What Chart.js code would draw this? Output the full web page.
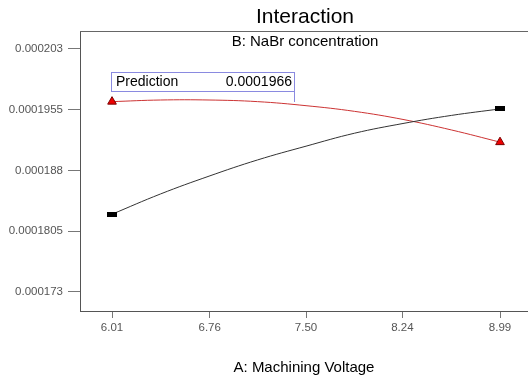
<!DOCTYPE html>
<html lang="en">

<head>
    <meta charset="UTF-8">
    <title>Interaction</title>
    <style>
        html, body { margin: 0; padding: 0; background: #fff; }
    </style>
</head>

<body>
    <canvas id="myChart" width="528" height="380"></canvas>

    <script src="https://cdn.jsdelivr.net/npm/chart.js@4.4.0/dist/chart.umd.min.js"></script>
    <script>
        // values
        const xTicks = [6.01, 6.76, 7.50, 8.24, 8.99];
        const xLabels = ['6.01', '6.76', '7.50', '8.24', '8.99'];
        const yTicks = [0.000173, 0.0001805, 0.000188, 0.0001955, 0.000203];
        const yLabels = ['0.000173', '0.0001805', '0.000188', '0.0001955', '0.000203'];

        const voltage = [6.01, 6.3825, 6.755, 7.1275, 7.50, 7.8725, 8.245, 8.6175, 8.99];
        const nabrLow = [0.0001826, 0.0001851, 0.0001873, 0.0001893, 0.0001910, 0.0001926, 0.0001938, 0.0001948, 0.0001956];
        const nabrHigh = [0.0001965, 0.0001967, 0.0001967, 0.0001965, 0.0001960, 0.0001953, 0.0001943, 0.0001930, 0.0001915];
        const prediction = '0.0001966';

        const fontFamily = "'Liberation Sans', Arial, sans-serif";

        // little black bar used as the low marker
        const barMark = document.createElement('canvas');
        barMark.width = 10;
        barMark.height = 5;
        const bctx = barMark.getContext('2d');
        bctx.fillStyle = '#000';
        bctx.fillRect(0, 0, 10, 5);

        function ends(n, r) {
            return voltage.map((v, i) => (i === 0 || i === voltage.length - 1) ? n : r);
        }

        const decorations = {
            id: 'decorations',
            afterDraw(chart) {
                const c = chart.ctx;
                const a = chart.chartArea;
                const mid = (a.left + a.right) / 2;
                c.save();
                // top frame line
                c.strokeStyle = '#666';
                c.lineWidth = 1;
                c.beginPath();
                c.moveTo(a.left, a.top + 0.5);
                c.lineTo(a.right, a.top + 0.5);
                c.stroke();

                c.fillStyle = '#000';
                c.textAlign = 'center';
                c.textBaseline = 'middle';
                c.font = '21px ' + fontFamily;
                c.fillText('Interaction', mid + 1, 17);
                c.font = '15px ' + fontFamily;
                c.fillText('B: NaBr concentration', mid + 1, 42);

                // prediction flag
                const bx = a.left + 31, by = 72, bw = 183, bh = 19;
                c.strokeStyle = '#8a8ae0';
                c.strokeRect(bx + 0.5, by + 0.5, bw, bh);
                c.beginPath();
                c.moveTo(bx + bw + 0.5, by + bh);
                c.lineTo(bx + bw + 0.5, by + bh + 11);
                c.stroke();
                c.font = '14px ' + fontFamily;
                c.textAlign = 'left';
                c.fillText('Prediction', bx + 5, by + 10);
                c.textAlign = 'right';
                c.fillText(prediction, bx + bw - 2, by + 10);
                c.restore();
            }
        };

        var ctx = document.getElementById('myChart');
        var config = {
            type: 'line',
            data: {
                datasets: [
                    {
                        data: voltage.map((v, i) => ({ x: v, y: nabrLow[i] })),
                        borderColor: '#333',
                        borderWidth: 1,
                        tension: 0.4,
                        pointStyle: barMark,
                        pointRadius: ends(5, 0),
                    },
                    {
                        data: voltage.map((v, i) => ({ x: v, y: nabrHigh[i] })),
                        borderColor: '#cc3333',
                        borderWidth: 1,
                        tension: 0.4,
                        pointStyle: 'triangle',
                        pointRadius: ends(5, 0),
                        pointBackgroundColor: '#ee0000',
                        pointBorderColor: '#7a0000',
                        pointBorderWidth: 1,
                    }
                ]
            },
            options: {
                responsive: false,
                animation: false,
                layout: { autoPadding: false, padding: { top: 31, right: 0, left: 0, bottom: 0 } },
                plugins: {
                    legend: { display: false },
                    tooltip: { enabled: false },
                },
                scales: {
                    x: {
                        type: 'linear',
                        min: 5.764,
                        max: 9.205,
                        afterBuildTicks: scale => { scale.ticks = xTicks.map(v => ({ value: v })); },
                        afterFit: scale => {
                            scale.height = 69;
                            scale.paddingLeft = 0;
                            scale.paddingRight = 0;
                        },
                        ticks: {
                            callback: (value, index) => xLabels[index],
                            color: '#555',
                            font: { size: 11.5, family: fontFamily },
                            padding: 3,
                            maxRotation: 0,
                        },
                        grid: { drawOnChartArea: false, tickLength: 7, color: '#777' },
                        border: { color: '#555' },
                        title: {
                            display: true,
                            text: 'A: Machining Voltage',
                            color: '#000',
                            font: { size: 15, family: fontFamily },
                            padding: { top: 0, bottom: 3 },
                        },
                    },
                    y: {
                        min: 0.00017065,
                        max: 0.00020522,
                        afterBuildTicks: scale => { scale.ticks = yTicks.map(v => ({ value: v })); },
                        afterFit: scale => {
                            scale.width = 80;
                            scale.paddingTop = 0;
                            scale.paddingBottom = 0;
                        },
                        ticks: {
                            callback: (value, index) => yLabels[index],
                            color: '#555',
                            font: { size: 11.5, family: fontFamily },
                            padding: 5,
                        },
                        grid: { drawOnChartArea: false, tickLength: 12, color: '#777' },
                        border: { color: '#555' },
                    }
                }
            },
            plugins: [decorations]
        }
        var chart = new Chart(ctx, config);
    </script>

</body>

</html>
